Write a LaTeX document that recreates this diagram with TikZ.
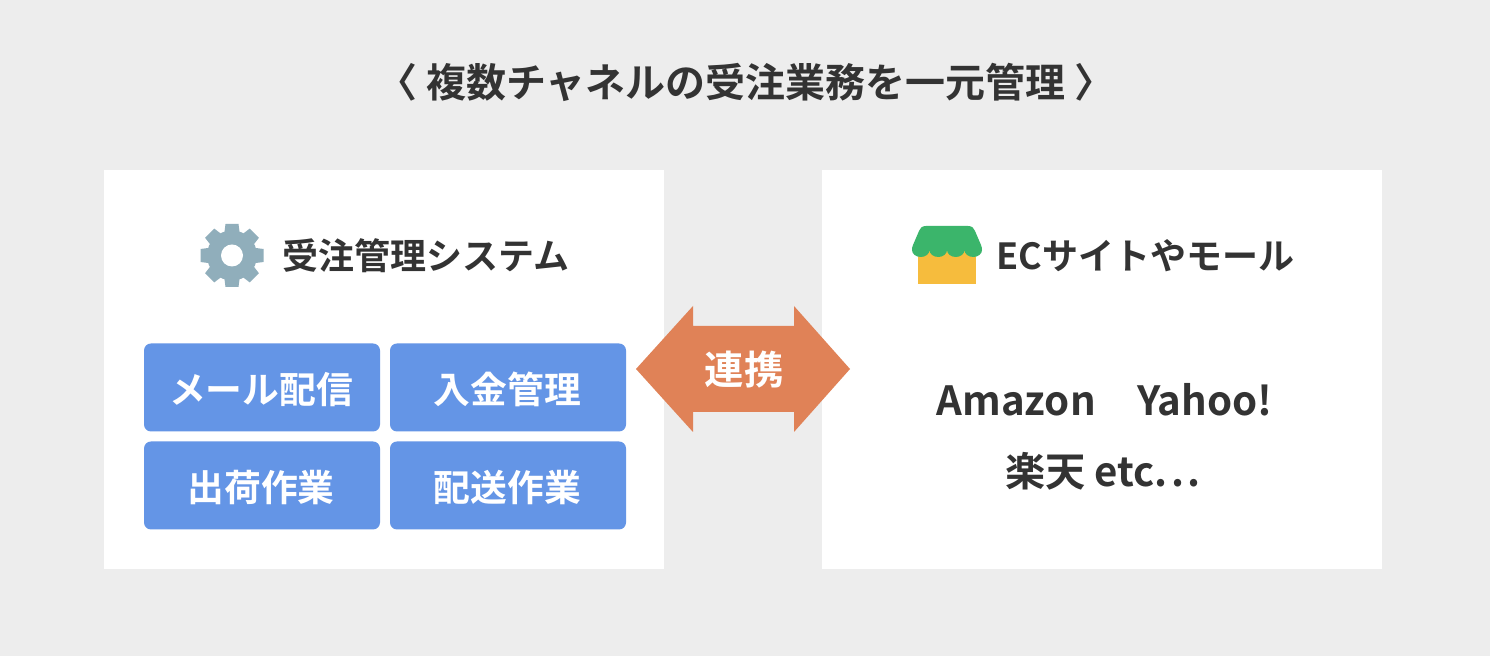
\documentclass[tikz,border=0pt]{standalone}
\usepackage{fontspec}
\setmainfont{Noto Sans CJK JP}[BoldFont={Noto Sans CJK JP Bold}]
\newfontfamily\jpb{Noto Sans CJK JP Bold}
\definecolor{bgc}{HTML}{EDEDED}
\definecolor{ink}{HTML}{333333}
\definecolor{tile}{HTML}{6495E6}
\definecolor{arrowc}{HTML}{E08257}
\definecolor{gearc}{HTML}{90AEBB}
\definecolor{roofc}{HTML}{3BB56B}
\definecolor{wallc}{HTML}{F6BC3D}
\tikzset{
  panel/.style={fill=white,draw=none,minimum width=280pt,minimum height=199.5pt,inner sep=0pt},
  tile box/.style={fill=tile,draw=none,rounded corners=3.5pt,minimum width=118pt,minimum height=44pt,inner sep=0pt},
  tile text/.style={text=white,inner sep=0pt,font=\jpb\fontsize{18.4}{22}\selectfont},
  lbl/.style={text=ink,inner sep=0pt,font=\jpb\fontsize{18}{22}\selectfont},
  big/.style={text=ink,inner sep=0pt,font=\jpb\fontsize{20.1}{24}\selectfont}
}
\begin{document}
\begin{tikzpicture}[x=0.5pt,y=-0.5pt]
\useasboundingbox (0,0) rectangle (1490,656);
\fill[bgc] (0,0) rectangle (1490,656);
\node[text=ink,inner sep=0pt,font=\jpb\fontsize{20}{24}\selectfont] (title) at (746,82) {〈 複数チャネルの受注業務を一元管理 〉};
\node[panel] (left) at (384,369.5) {};
\node[panel] (right) at (1102,369.5) {};
% gear
\begin{scope}[shift={(232,255.5)}]
  \fill[gearc] (0,0) circle (25);
  \foreach \a in {0,45,...,315}
    \fill[gearc,rotate=\a] (-8,-20) -- (-6.5,-31.5) -- (6.5,-31.5) -- (8,-20) -- cycle;
  \fill[white] (0,0) circle (11);
\end{scope}
\node[lbl,anchor=west] (lefttitle) at (282,256) {受注管理システム};
% shop
\fill[wallc] (918,248) rectangle (976,284);
\fill[roofc] (926,226) -- (968,226) .. controls (972,226) and (974,228) .. (975,231)
  -- (981,245) .. controls (982,247) and (982,249) .. (982,250)
  arc[start angle=0,end angle=180,x radius=8.75,y radius=7]
  arc[start angle=0,end angle=180,x radius=8.75,y radius=7]
  arc[start angle=0,end angle=180,x radius=8.75,y radius=7]
  arc[start angle=0,end angle=180,x radius=8.75,y radius=7]
  .. controls (912,249) and (912,247) .. (913,245)
  -- (919,231) .. controls (920,228) and (922,226) .. (926,226) -- cycle;
\node[lbl,anchor=west] (righttitle) at (996,256) {ECサイトやモール};
\node[tile box] (t1) at (262,387.5) {};
\node[tile box] (t2) at (508,387.5) {};
\node[tile box] (t3) at (262,485.5) {};
\node[tile box] (t4) at (508,485.5) {};
\node[tile text] (l1) at (261,389.5) {メール配信};
\node[tile text] (l2) at (507.5,389.5) {入金管理};
\node[tile text] (l3) at (261,487.5) {出荷作業};
\node[tile text] (l4) at (507.5,487.5) {配送作業};
\fill[arrowc] (636,369) -- (693,306) -- (693,326) -- (794,326) -- (794,306) -- (850,369) -- (794,432) -- (794,412) -- (693,412) -- (693,432) -- cycle;
\node[text=white,inner sep=0pt,font=\jpb\fontsize{19.7}{24}\selectfont] (link) at (744,370) {連携};
\node[big] (sites1) at (1104.5,400) {Amazon\hspace{21pt}Yahoo!};
\node[big,anchor=base] (sites2) at (1103,487) {楽天 etc.\hspace{1.7pt}.\hspace{1.7pt}.};
\end{tikzpicture}
\end{document}
